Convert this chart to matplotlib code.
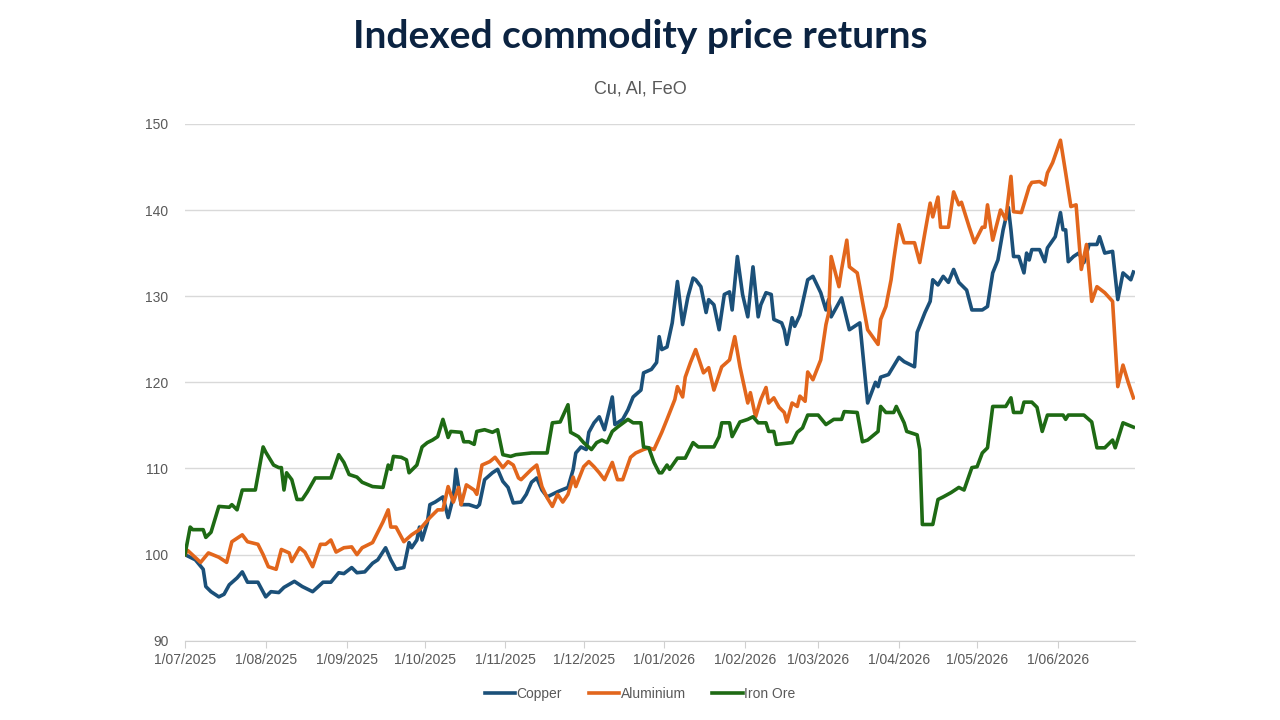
"""
Indexed commodity price returns (Cu, Al, FeO), Jul 2025 - Jun 2026.
"""
import numpy as np
import matplotlib
matplotlib.use("Agg")
import matplotlib.pyplot as plt
import matplotlib.dates as mdates

BASE_DATE = np.datetime64("2025-07-01")

# days after 1 Jul 2025, index level (start = 100)
COPPER_DAYS = [0, 4, 7, 8, 10, 13, 15, 17, 20, 22, 24, 28, 31, 33, 36, 38, 42, 45, 49, 53,
               56, 59, 61, 64, 66, 69, 72, 74, 77, 79, 81, 84, 86, 87, 89, 90, 91, 93, 94, 96,
               99, 101, 103, 104, 106, 109, 112, 113, 115, 118, 120, 122, 124, 126, 129, 131,
               133, 135, 137, 139, 143, 147, 149, 150, 152, 154, 155, 157, 159, 161, 164, 165,
               168, 170, 172, 175, 176, 179, 181, 182, 183, 185, 187, 189, 191, 193, 195, 196,
               198, 200, 201, 203, 205, 207, 209, 210, 212, 214, 216, 218, 220, 221, 223, 225,
               226, 229, 230, 231, 233, 234, 236, 239, 241, 244, 246, 247, 248, 252, 255, 259,
               262, 265, 266, 267, 270, 274, 276, 280, 281, 284, 286, 287, 289, 291, 293, 295,
               297, 300, 302, 306, 308, 310, 312, 314, 316, 317, 318, 320, 322, 323, 324, 325,
               328, 330, 331, 334, 336, 337, 338, 339, 341, 343, 345, 347, 350, 351, 353, 356,
               358, 360, 363, 364]
COPPER = [100.0, 99.4, 98.3, 96.3, 95.7, 95.1, 95.4, 96.5, 97.3, 98.0, 96.8, 96.8, 95.1, 95.7,
          95.6, 96.2, 96.9, 96.3, 95.7, 96.8, 96.8, 97.9, 97.8, 98.5, 97.9, 98.0, 99.0, 99.4,
          100.8, 99.4, 98.3, 98.5, 101.4, 100.8, 101.7, 103.2, 101.7, 103.7, 105.8, 106.1,
          106.7, 104.3, 106.7, 109.9, 105.8, 105.8, 105.5, 105.8, 108.7, 109.5, 109.9, 108.5,
          107.8, 106.0, 106.1, 107.0, 108.4, 108.9, 107.5, 106.7, 107.3, 107.8, 109.9, 111.8,
          112.5, 112.2, 114.2, 115.3, 116.0, 114.5, 118.3, 115.1, 115.7, 116.8, 118.3, 119.1,
          121.1, 121.5, 122.3, 125.3, 123.8, 124.1, 126.9, 131.7, 126.7, 129.9, 132.1, 131.9,
          131.1, 128.1, 129.6, 129.0, 126.1, 130.2, 130.5, 128.4, 134.6, 130.2, 127.6, 133.4,
          127.6, 129.0, 130.4, 130.2, 127.3, 126.9, 126.1, 124.4, 127.5, 126.5, 127.8, 131.9,
          132.3, 130.4, 128.4, 129.6, 127.6, 129.8, 126.1, 126.9, 117.6, 120.0, 119.5, 120.6,
          120.9, 122.9, 122.4, 121.8, 125.8, 128.1, 129.4, 131.9, 131.3, 132.3, 131.6, 133.1,
          131.6, 130.7, 128.4, 128.4, 128.8, 132.7, 134.2, 137.7, 140.3, 137.7, 134.6, 134.6,
          132.7, 135.0, 134.2, 135.4, 135.4, 134.0, 135.6, 136.9, 139.7, 137.7, 137.7, 134.0,
          134.6, 135.0, 133.9, 136.0, 136.0, 136.9, 135.0, 135.2, 129.6, 132.7, 131.9, 132.8]

ALUMINIUM_DAYS = [0, 1, 6, 9, 13, 16, 18, 22, 24, 28, 30, 32, 35, 37, 40, 41, 44, 46, 49, 52,
                  54, 56, 58, 61, 64, 66, 68, 72, 74, 76, 78, 79, 81, 84, 87, 90, 94, 97, 99,
                  101, 103, 105, 106, 108, 111, 112, 114, 117, 119, 122, 124, 126, 128, 129,
                  133, 135, 137, 139, 141, 143, 145, 147, 149, 150, 153, 155, 157, 159, 161,
                  164, 166, 168, 171, 173, 176, 178, 180, 183, 185, 188, 189, 191, 192, 194,
                  196, 199, 201, 203, 206, 209, 211, 213, 216, 217, 219, 221, 223, 224, 226,
                  228, 230, 231, 233, 235, 236, 238, 239, 241, 244, 246, 247, 248, 250, 251,
                  252, 254, 255, 258, 259, 260, 262, 266, 267, 269, 271, 272, 274, 276, 280,
                  282, 284, 286, 287, 289, 290, 293, 295, 297, 298, 301, 303, 306, 307, 308,
                  310, 313, 315, 317, 318, 321, 324, 325, 328, 330, 331, 333, 336, 338, 340,
                  342, 344, 346, 348, 350, 353, 356, 358, 360, 362, 364]
ALUMINIUM = [100.0, 100.5, 99.1, 100.2, 99.7, 99.1, 101.5, 102.3, 101.5, 101.2, 100.0, 98.6,
             98.3, 100.6, 100.2, 99.2, 100.8, 100.3, 98.6, 101.2, 101.2, 101.7, 100.3, 100.8,
             100.9, 100.0, 100.8, 101.4, 102.6, 103.8, 105.2, 103.2, 103.2, 101.5, 102.3,
             102.9, 104.3, 105.2, 105.2, 107.9, 106.1, 107.8, 105.8, 108.1, 107.5, 107.0,
             110.4, 110.8, 111.3, 110.1, 110.8, 110.4, 108.9, 108.7, 109.9, 110.4, 107.9,
             106.6, 105.6, 107.0, 106.1, 107.0, 109.0, 107.9, 110.2, 110.8, 110.2, 109.5,
             108.7, 110.7, 108.7, 108.7, 111.3, 111.8, 112.2, 112.4, 112.2, 114.2, 115.7,
             118.0, 119.5, 118.3, 120.6, 122.3, 123.8, 121.1, 121.7, 119.1, 121.8, 122.6,
             125.3, 121.8, 117.6, 118.8, 116.0, 118.0, 119.4, 117.6, 118.2, 117.1, 116.5,
             115.4, 117.6, 117.2, 118.4, 117.8, 121.2, 120.3, 122.6, 126.7, 128.0, 134.6,
             132.3, 131.1, 133.1, 136.5, 133.4, 132.7, 131.1, 129.4, 126.1, 124.4, 127.3,
             128.8, 131.9, 134.2, 138.3, 136.2, 136.2, 133.9, 137.4, 140.8, 139.2, 141.5,
             138.0, 138.0, 142.1, 140.6, 140.9, 138.0, 136.2, 138.0, 138.0, 140.6, 136.5,
             140.0, 138.9, 143.9, 139.8, 139.7, 142.7, 143.2, 143.3, 142.9, 144.3, 145.5,
             148.1, 144.3, 140.4, 140.6, 133.1, 136.0, 129.4, 131.1, 130.4, 129.4, 119.5,
             122.0, 120.0, 118.2]

IRON_ORE_DAYS = [0, 2, 3, 7, 8, 10, 13, 17, 18, 20, 22, 27, 30, 31, 34, 36, 37, 38, 39, 41,
                 43, 45, 47, 50, 56, 59, 61, 63, 66, 68, 72, 76, 78, 79, 80, 83, 85, 86, 89,
                 91, 93, 95, 97, 99, 101, 102, 106, 107, 109, 111, 112, 115, 118, 120, 122,
                 125, 127, 133, 139, 141, 144, 147, 148, 151, 153, 156, 158, 160, 162, 164,
                 166, 170, 172, 175, 176, 178, 180, 182, 183, 185, 186, 189, 192, 195, 197,
                 203, 205, 206, 209, 210, 213, 216, 218, 220, 223, 224, 226, 227, 233, 235,
                 237, 239, 243, 246, 249, 252, 253, 258, 260, 262, 266, 267, 269, 272, 273,
                 276, 277, 281, 282, 283, 287, 289, 291, 294, 297, 299, 302, 304, 306, 308,
                 310, 315, 317, 318, 321, 322, 325, 327, 329, 331, 337, 338, 339, 345, 348,
                 350, 353, 356, 357, 360, 364]
IRON_ORE = [100.0, 103.2, 102.9, 102.9, 102.0, 102.6, 105.6, 105.5, 105.8, 105.2, 107.5,
            107.5, 112.5, 111.9, 110.4, 110.1, 110.1, 107.5, 109.5, 108.7, 106.4, 106.4,
            107.3, 108.9, 108.9, 111.6, 110.7, 109.3, 109.0, 108.4, 107.9, 107.8, 110.4,
            109.9, 111.4, 111.3, 111.0, 109.5, 110.4, 112.5, 113.0, 113.3, 113.7, 115.7,
            113.6, 114.3, 114.2, 113.1, 113.1, 112.8, 114.3, 114.5, 114.2, 114.5, 111.6,
            111.4, 111.6, 111.8, 111.8, 115.3, 115.4, 117.4, 114.2, 113.7, 113.0, 112.2,
            113.0, 113.3, 113.0, 114.3, 114.8, 115.7, 115.3, 115.3, 112.5, 112.4, 110.7,
            109.5, 109.5, 110.4, 109.9, 111.2, 111.2, 113.0, 112.5, 112.5, 113.7, 115.3,
            115.3, 113.7, 115.4, 115.7, 116.0, 115.3, 115.3, 114.3, 114.3, 112.8, 113.0,
            114.2, 114.7, 116.2, 116.2, 115.1, 115.7, 115.7, 116.6, 116.5, 113.1, 113.3,
            114.3, 117.2, 116.5, 116.5, 117.2, 115.3, 114.3, 113.9, 112.2, 103.5, 103.5,
            106.4, 106.7, 107.2, 107.8, 107.5, 110.1, 110.2, 111.8, 112.4, 117.2, 117.2,
            118.2, 116.5, 116.5, 117.7, 117.7, 117.1, 114.3, 116.2, 116.2, 115.7, 116.2,
            116.2, 115.4, 112.4, 112.4, 113.3, 112.4, 115.3, 114.8]

SERIES = [("Copper", COPPER_DAYS, COPPER, "#1b5079"),
          ("Aluminium", ALUMINIUM_DAYS, ALUMINIUM, "#e2661c"),
          ("Iron Ore", IRON_ORE_DAYS, IRON_ORE, "#1e6a14")]

Y_TICKS = [90, 100, 110, 120, 130, 140, 150]

TEXT_GREY = "#595959"
NARROW = ["Liberation Sans Narrow", "Liberation Sans", "DejaVu Sans"]


def to_dates(days):
    return BASE_DATE + np.array(days, dtype="timedelta64[D]")


def month_label(value, _pos):
    d = mdates.num2date(value)
    return f"{d.day}/{d.month:02d}/{d.year}"


fig = plt.figure(figsize=(12.8, 7.2), dpi=100)
ax = fig.add_axes([0.1445, 0.110, 0.742, 0.718])

for name, days, values, colour in SERIES:
    ax.plot(to_dates(days), values, color=colour, linewidth=2.6, label=name,
            solid_joinstyle="round")

ax.set_ylim(90, 150)
ax.set_yticks(Y_TICKS)
ax.set_xlim(np.datetime64("2025-07-01"), np.datetime64("2026-06-30T12"))
ax.xaxis.set_major_locator(mdates.MonthLocator(bymonthday=1))
ax.xaxis.set_major_formatter(plt.FuncFormatter(month_label))

ax.grid(axis="y", color="#d9d9d9", linewidth=1.0)
ax.set_axisbelow(True)
for side in ("top", "right", "left"):
    ax.spines[side].set_visible(False)
ax.spines["bottom"].set_color("#d0d0d0")
ax.tick_params(axis="y", length=0, pad=12, labelsize=10, labelcolor=TEXT_GREY)
ax.tick_params(axis="x", length=5, color="#d0d0d0", pad=4, labelsize=10,
               labelcolor=TEXT_GREY)
for label in ax.get_xticklabels() + ax.get_yticklabels():
    label.set_family(NARROW)

fig.text(0.5, 0.950, "Indexed commodity price returns", ha="center", va="center",
         fontsize=28, fontweight="bold", color="#0b2341", family=["Lato", "DejaVu Sans"])
fig.text(0.5, 0.877, "Cu, Al, FeO", ha="center", va="center", fontsize=13,
         color=TEXT_GREY, family=NARROW)

legend = fig.legend(loc="center", bbox_to_anchor=(0.5, 0.036), ncol=3, frameon=False,
                    handlelength=2.2, handletextpad=0.1, columnspacing=1.9,
                    prop={"family": NARROW, "size": 10})
for text in legend.get_texts():
    text.set_color(TEXT_GREY)

fig.savefig("out.png", dpi=100, facecolor="white")
